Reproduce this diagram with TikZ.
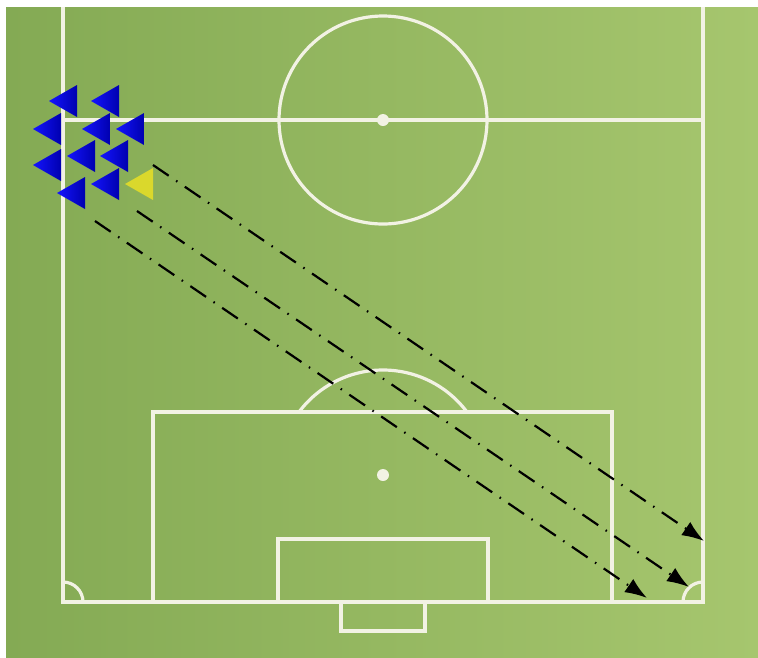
\documentclass[tikz,border=0pt]{standalone}
\usetikzlibrary{arrows.meta}
\definecolor{grassL}{RGB}{132,170,84}
\definecolor{grassR}{RGB}{166,198,110}
\definecolor{linecol}{RGB}{242,242,228}
\definecolor{pblueL}{RGB}{20,20,255}
\definecolor{pblueR}{RGB}{0,0,175}
\definecolor{pyellow}{RGB}{218,216,44}
\begin{document}
\begin{tikzpicture}[x=1pt,y=-1pt,
  fieldline/.style={draw=linecol,line width=3.2pt},
  spot/.style={fill=linecol},
  pass/.style={black,line width=2.2pt,dash pattern=on 19pt off 9pt on 1.5pt off 9pt,-{Latex[length=22pt,width=16pt]}},
  blueplayer/.style={left color=pblueL,right color=pblueR,draw=none},
  yellowplayer/.style={fill=pyellow,draw=none}]
\useasboundingbox (0,0) rectangle (758,657);
\fill[white] (0,0) rectangle (758,657);
\shade[left color=grassL,right color=grassR] (6,7) rectangle (758,657);
% pitch markings
\draw[fieldline] (63,7) -- (63,602) -- (703,602) -- (703,7);
\draw[fieldline] (63,120) -- (703,120);
\draw[fieldline] (383,120) circle[radius=104];
\fill[spot] (383,120) circle[radius=6];
\draw[fieldline] (153,602) -- (153,412) -- (612,412) -- (612,602);
\draw[fieldline] (278,602) -- (278,539) -- (488,539) -- (488,602);
\draw[fieldline] (341,602) -- (341,631) -- (425,631) -- (425,602);
\fill[spot] (383,475) circle[radius=6];
\draw[fieldline] (299,412) arc[start angle=-143.13,end angle=-36.87,radius=105];
\draw[fieldline] (63,582) arc[start angle=-90,end angle=0,radius=20];
\draw[fieldline] (683,602) arc[start angle=180,end angle=270,radius=20];
% players
\foreach \px/\py in {49/101,91/101,33/129,82/129,116/129,67/156,100/156,33/165,57/193,91/184}
  \shade[blueplayer] (\px,\py) -- ++(28,-16) -- ++(0,32) -- cycle;
\fill[yellowplayer] (125,184) -- ++(28,-16) -- ++(0,32) -- cycle;
% passes
\coordinate (s1) at (153,165); \coordinate (e1) at (704,541);
\coordinate (s2) at (137,211); \coordinate (e2) at (689,587);
\coordinate (s3) at (95,221);  \coordinate (e3) at (647,598);
\draw[pass] (s1) -- (e1);
\draw[pass] (s2) -- (e2);
\draw[pass] (s3) -- (e3);
\end{tikzpicture}
\end{document}
